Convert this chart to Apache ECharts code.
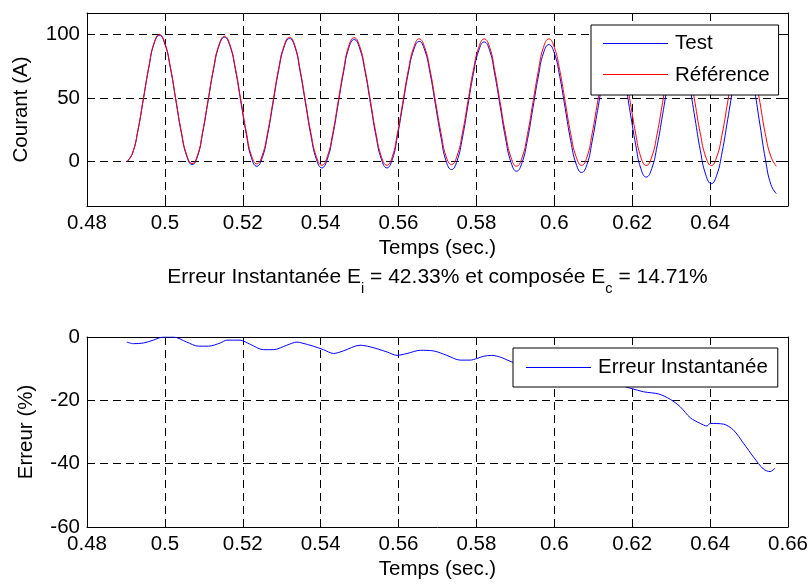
<!DOCTYPE html>
<html>
<head>
<meta charset="utf-8">
<script src="https://cdn.jsdelivr.net/npm/echarts@6/dist/echarts.min.js"></script>
<style>
html,body{margin:0;padding:0;background:#fff;}
#chart{width:812px;height:586px;}
</style>
</head>
<body>
<div id="chart"></div>
<script>
// ---- data ----
const sampleTimes = [
0.4903,0.4917,0.4931,0.4945,0.4959,0.4972,0.4986,0.5000,0.5014,0.5028,0.5042,0.5056,
0.5070,0.5084,0.5097,0.5111,0.5125,0.5139,0.5153,0.5167,0.5181,0.5195,0.5209,0.5222,
0.5236,0.5250,0.5264,0.5278,0.5292,0.5306,0.5320,0.5334,0.5347,0.5361,0.5375,0.5389,
0.5403,0.5417,0.5431,0.5445,0.5459,0.5472,0.5486,0.5500,0.5514,0.5528,0.5542,0.5556,
0.5570,0.5584,0.5597,0.5611,0.5625,0.5639,0.5653,0.5667,0.5681,0.5695,0.5709,0.5722,
0.5736,0.5750,0.5764,0.5778,0.5792,0.5806,0.5820,0.5834,0.5847,0.5861,0.5875,0.5889,
0.5903,0.5917,0.5931,0.5945,0.5959,0.5972,0.5986,0.6000,0.6014,0.6028,0.6042,0.6056,
0.6070,0.6084,0.6097,0.6111,0.6125,0.6139,0.6153,0.6167,0.6181,0.6195,0.6209,0.6222,
0.6236,0.6250,0.6264,0.6278,0.6292,0.6306,0.6320,0.6334,0.6347,0.6361,0.6375,0.6389,
0.6403,0.6417,0.6431,0.6445,0.6459,0.6472,0.6486,0.6500,0.6514,0.6528,0.6542,0.6556,
0.6570];

const testCurrent = [
0,6.7,24.8,49.7,74.5,92.6,99.3,92.5,73.9,48.5,23.0,4.4,
-2.4,4.3,22.7,47.8,72.8,91.2,97.9,91.1,72.5,47.1,21.7,3.1,
-3.7,3.0,21.5,46.6,71.8,90.2,96.9,90.1,71.4,46.0,20.5,1.8,
-5.0,1.8,20.3,45.6,70.8,89.3,96.1,89.3,70.8,45.6,20.3,1.8,
-5.0,1.7,19.9,44.9,69.8,88.0,94.7,87.9,69.5,44.2,19.0,0.5,
-6.3,0.4,18.8,44.0,69.1,87.5,94.2,87.4,68.8,43.3,17.9,-0.8,
-7.6,-0.9,17.3,42.3,67.2,85.4,92.1,85.4,66.9,41.8,16.6,-1.9,
-8.6,-2.1,15.8,40.2,64.6,82.5,89.0,82.2,63.7,38.4,13.1,-5.4,
-12.2,-5.6,12.4,36.9,61.5,79.4,86.0,79.1,60.2,34.3,8.5,-10.5,
-17.4,-10.7,7.7,32.8,57.9,76.3,83.0,75.7,55.9,28.9,1.8,-18.0,
-25.3];

const refCurrent = [
0,6.7,25,50,75,93.3,100,93.2,74.6,49.2,23.8,5.2,
-1.6,5.1,23.5,48.6,73.6,92.0,98.7,92.0,73.6,48.4,23.3,4.9,
-1.8,4.9,23.1,48.1,73.0,91.2,97.9,91.1,72.7,47.5,22.3,3.9,
-2.9,3.8,22.2,47.4,72.5,90.9,97.6,90.9,72.5,47.4,22.2,3.8,
-2.9,3.8,22.0,46.9,71.7,89.9,96.6,90.0,71.9,47.1,22.4,4.2,
-2.4,4.2,22.4,47.1,71.9,90.0,96.6,89.9,71.5,46.4,21.4,3.0,
-3.7,3.0,21.4,46.5,71.5,89.9,96.6,89.9,71.7,46.8,21.9,3.7,
-3.0,3.7,21.9,46.8,71.6,89.8,96.5,89.8,71.6,46.7,21.8,3.6,
-3.1,3.6,21.8,46.7,71.6,89.8,96.5,89.8,71.6,46.7,21.8,3.6,
-3.1,3.6,21.8,46.7,71.6,89.8,96.5,89.8,71.5,46.4,21.4,4.0,
-3.7];

const errTimes = [
0.4902,0.4919,0.4945,0.4970,0.4996,0.5022,0.5056,0.5086,0.5112,0.5142,0.5159,0.5193,
0.5219,0.5253,0.5279,0.5313,0.5339,0.5352,0.5381,0.5407,0.5433,0.5458,0.5501,0.5527,
0.5570,0.5596,0.5622,0.5656,0.5690,0.5724,0.5758,0.5784,0.5801,0.5818,0.5839,0.5865,
0.5891,0.5930,0.5980,0.6030,0.6080,0.6130,0.6170,0.6199,0.6229,0.6268,0.6298,0.6323,
0.6349,0.6375,0.6392,0.6400,0.6434,0.6460,0.6486,0.6512,0.6537,0.6554,0.6567];

const errValues = [
-1.6,-2.1,-1.9,-1.0,0,0,-1.6,-2.9,-2.9,-1.9,-1.0,-1.0,
-2.3,-4.0,-4.0,-2.6,-1.6,-1.9,-2.9,-4.0,-5.2,-4.4,-2.6,-3.1,
-4.7,-5.8,-5.2,-4.2,-4.4,-5.8,-7.3,-7.3,-6.8,-6.1,-5.8,-6.5,
-7.9,-9.0,-10.5,-12.0,-13.5,-14.5,-15.3,-16.3,-17.3,-18.0,-19.7,-22.0,
-25.5,-27.3,-28.1,-27.3,-27.5,-29.4,-33.6,-38.0,-41.7,-42.5,-41.4];

const currentTicks = [0, 50, 100];
const seriesNames = ['Test', 'Référence', 'Erreur Instantanée'];
const seriesColors = ['#0000ff', '#ff0000', '#0000ff'];
const axisTitles = {time: 'Temps (sec.)', current: 'Courant (A)', error: 'Erreur (%)'};

// ---- chart ----
const FONT = '"Liberation Sans", Arial, Helvetica, sans-serif';
const FS = 20.5;
const black = '#000';
const gridDash = {color: black, width: 1, type: [8, 5]};
const txt = {color: black, fontSize: FS, fontFamily: FONT};

function fmtX(v) {
  if (v > 0.6595 && v < 0.6605) return '';
  return String(+v.toFixed(2));
}
function fmtXAll(v) { return String(+v.toFixed(2)); }

function xAxisMain(gi, formatter) {
  return {
    gridIndex: gi, type: 'value', min: 0.48, max: 0.66, interval: 0.02, position: 'bottom',
    axisLine: {show: true, onZero: false, lineStyle: {color: black, width: 1}},
    axisTick: {show: true, inside: true, length: 7, lineStyle: {color: black}},
    axisLabel: Object.assign({margin: 7, formatter: formatter}, txt),
    splitLine: {show: true, lineStyle: gridDash},
    name: axisTitles.time, nameLocation: 'middle', nameGap: 32, nameTextStyle: txt
  };
}
function xAxisMirror(gi) {
  return {
    gridIndex: gi, type: 'value', min: 0.48, max: 0.66, interval: 0.02, position: 'top',
    axisLine: {show: true, onZero: false, lineStyle: {color: black, width: 1}},
    axisTick: {show: true, inside: true, length: 7, lineStyle: {color: black}},
    axisLabel: {show: false}, splitLine: {show: false}
  };
}

const tData = sampleTimes.map((t, i) => [t, testCurrent[i]]);
const rData = sampleTimes.map((t, i) => [t, refCurrent[i]]);
const eData = errTimes.map((t, i) => [t, errValues[i]]);

// Legend: text laid out by ECharts; its icon is left empty and the
// coloured line samples are drawn on top of the legend box.
const legendCommon = {
  orient: 'vertical', icon: 'none', itemWidth: 65, itemHeight: 20, itemGap: 11,
  backgroundColor: '#fff', borderColor: black, borderWidth: 1, borderRadius: 0,
  selectedMode: false,
  textStyle: {color: black, fontSize: FS, fontFamily: FONT, lineHeight: 20, padding: [0, 0, 0, 2]}
};
const LEG1 = {left: 591, top: 25, pad: [8, 9, 9, 12]};
const LEG2 = {left: 513, top: 348, pad: [9, 10, 9, 13]};
function legendSample(leg, row, color) {
  const y = leg.top + leg.pad[0] + 10 + row * 31 + 0.5;
  const x1 = leg.left + leg.pad[3];
  return {type: 'line', z: 100, silent: true,
          shape: {x1: x1, y1: y, x2: x1 + 65, y2: y},
          style: {stroke: color, lineWidth: 1}};
}

function lineSeries(i, xi, yi, data, smooth) {
  return {
    name: seriesNames[i], type: 'line', xAxisIndex: xi, yAxisIndex: yi, data: data,
    symbol: 'none', showSymbol: false, smooth: smooth, color: seriesColors[i],
    lineStyle: {color: seriesColors[i], width: 1}
  };
}

const option = {
  animation: false,
  backgroundColor: '#fff',
  textStyle: {fontFamily: FONT},
  grid: [
    {left: 87, right: 24, top: 13, height: 193},
    {left: 87, right: 24, top: 337, height: 190}
  ],
  xAxis: [xAxisMain(0, fmtX), xAxisMirror(0), xAxisMain(1, fmtXAll), xAxisMirror(1)],
  yAxis: [
    {
      gridIndex: 0, type: 'value', min: -35, max: 117, position: 'left',
      axisLine: {show: true, onZero: false, lineStyle: {color: black}},
      axisTick: {show: true, inside: true, length: 7, lineStyle: {color: black}, customValues: currentTicks},
      axisLabel: Object.assign({margin: 7, customValues: currentTicks}, txt),
      splitLine: {show: true, lineStyle: gridDash},
      name: axisTitles.current, nameLocation: 'middle', nameGap: 55, nameTextStyle: txt
    },
    {
      gridIndex: 0, type: 'value', min: -35, max: 117, position: 'right',
      axisLine: {show: true, onZero: false, lineStyle: {color: black}},
      axisTick: {show: true, inside: true, length: 7, lineStyle: {color: black}, customValues: currentTicks},
      axisLabel: {show: false}, splitLine: {show: false}
    },
    {
      gridIndex: 1, type: 'value', min: -60, max: 0, interval: 20, position: 'left',
      axisLine: {show: true, onZero: false, lineStyle: {color: black}},
      axisTick: {show: true, inside: true, length: 7, lineStyle: {color: black}},
      axisLabel: Object.assign({margin: 7}, txt),
      splitLine: {show: true, lineStyle: gridDash},
      name: axisTitles.error, nameLocation: 'middle', nameGap: 50, nameTextStyle: txt
    },
    {
      gridIndex: 1, type: 'value', min: -60, max: 0, interval: 20, position: 'right',
      axisLine: {show: true, onZero: false, lineStyle: {color: black}},
      axisTick: {show: true, inside: true, length: 7, lineStyle: {color: black}},
      axisLabel: {show: false}, splitLine: {show: false}
    }
  ],
  legend: [
    Object.assign({data: [seriesNames[0], seriesNames[1]], left: LEG1.left, top: LEG1.top, padding: LEG1.pad}, legendCommon),
    Object.assign({data: [seriesNames[2]], left: LEG2.left, top: LEG2.top, padding: LEG2.pad}, legendCommon)
  ],
  graphic: [
    {
      type: 'text', x: 437.5, y: 266.5, silent: true,
      style: {
        text: '{a|Erreur Instantanée E}{s|i}{a| = 42.33% et composée E}{s|c}{a| = 14.71%}',
        align: 'center', verticalAlign: 'top',
        rich: {
          a: {fontSize: 21, fontFamily: FONT, fill: black, lineHeight: 20, verticalAlign: 'top'},
          s: {fontSize: 14.5, fontFamily: FONT, fill: black, lineHeight: 14, padding: [14.5, 0, 0, 0], verticalAlign: 'top'}
        }
      }
    },
    legendSample(LEG1, 0, seriesColors[0]),
    legendSample(LEG1, 1, seriesColors[1]),
    legendSample(LEG2, 0, seriesColors[2])
  ],
  series: [
    lineSeries(0, 0, 0, tData, 0.5),
    lineSeries(1, 0, 0, rData, 0.5),
    lineSeries(2, 2, 2, eData, 0.3)
  ]
};

const chart = echarts.init(document.getElementById('chart'), null, {renderer: 'canvas'});
chart.setOption(option);
</script>
</body>
</html>
